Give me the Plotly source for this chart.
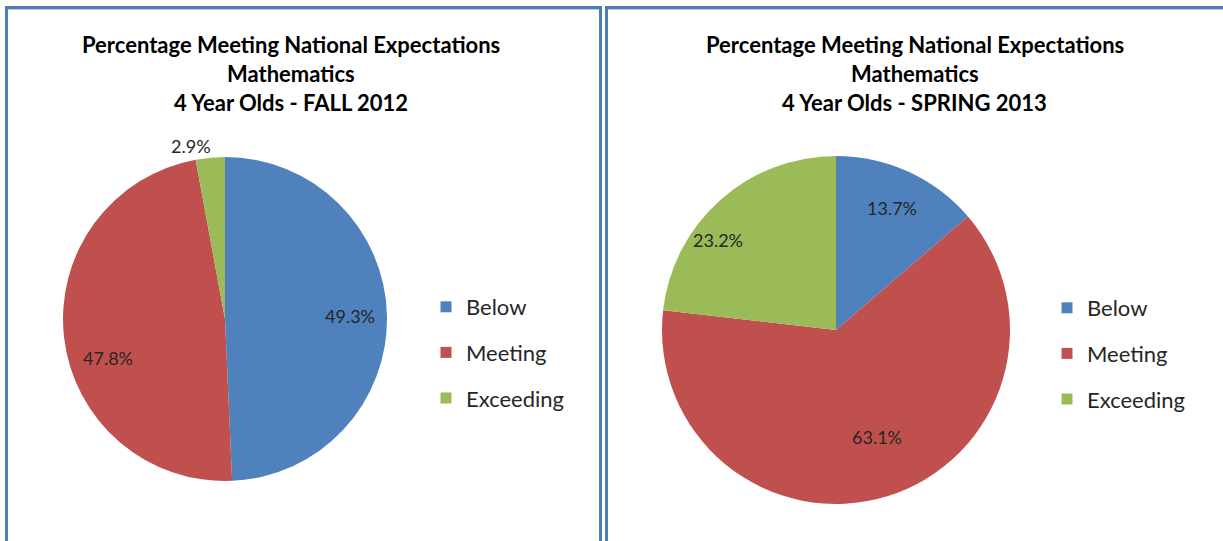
import math
import plotly.graph_objects as go

# ---- data -------------------------------------------------------------
categories = ["Below", "Meeting", "Exceeding"]
fall_2012 = [49.3, 47.8, 2.9]
spring_2013 = [13.7, 63.1, 23.2]

title_lines_fall = ["Percentage Meeting National Expectations", "Mathematics", "4 Year Olds - FALL 2012"]
title_lines_spring = ["Percentage Meeting National Expectations", "Mathematics", "4 Year Olds - SPRING 2013"]

colors = ["#4F81BD", "#C0504D", "#9BBB59"]

# ---- layout geometry (pixels) ----------------------------------------
W, H = 1223, 541
FONT = "Lato, Calibri, Carlito, sans-serif"
TEXT_COLOR = "#262626"

# pie centre/radius in pixels; label radius (fraction of radius) and
# angular nudge (degrees) for each data label
pies = [
    dict(values=fall_2012, cx=225, cy=319, r=162,
         label_r=[0.77, 0.76, 1.09], label_da=[0, -12, -6],
         title=title_lines_fall, title_cx=291, legend="legend"),
    dict(values=spring_2013, cx=836, cy=330, r=174,
         label_r=[0.77, 0.66, 0.85], label_da=[0, -4, -11],
         title=title_lines_spring, title_cx=915, legend="legend2"),
]


def px_x(x):
    return x / W


def px_y(y):
    return 1 - y / H


fig = go.Figure()
annotations = []

for p in pies:
    cx, cy, r = p["cx"], p["cy"], p["r"]
    fig.add_trace(go.Pie(
        labels=categories,
        values=p["values"],
        sort=False,
        direction="clockwise",
        rotation=0,
        marker=dict(colors=colors, line=dict(width=0)),
        textinfo="none",
        hoverinfo="label+percent",
        showlegend=False,
        domain=dict(x=[px_x(cx - r), px_x(cx + r)], y=[px_y(cy + r), px_y(cy - r)]),
    ))

    # data labels placed around the angular middle of each slice
    total = sum(p["values"])
    cum = 0.0
    for v, fr, da in zip(p["values"], p["label_r"], p["label_da"]):
        mid = (cum + v / 2) / total * 2 * math.pi + math.radians(da)
        cum += v
        lx = cx + math.sin(mid) * r * fr
        ly = cy - math.cos(mid) * r * fr
        annotations.append(dict(
            x=px_x(lx), y=px_y(ly), xref="paper", yref="paper",
            text=f"{v:.1f}%", showarrow=False,
            font=dict(family=FONT, size=18, color=TEXT_COLOR),
            xanchor="center", yanchor="middle",
        ))

    # three-line bold title
    for i, line in enumerate(p["title"]):
        annotations.append(dict(
            x=px_x(p["title_cx"]), y=px_y(44 + i * 29.5), xref="paper", yref="paper",
            text=f"<b>{line}</b>", showarrow=False,
            font=dict(family=FONT, size=22, color="#000000"),
            xanchor="center", yanchor="middle",
        ))

    # legend entries (one group per category so the groups can be spaced out)
    for name, col in zip(categories, colors):
        fig.add_trace(go.Scatter(
            x=[None], y=[None], mode="markers",
            marker=dict(symbol="square", size=11, color=col),
            name=name, legendgroup=p["legend"] + name, legend=p["legend"],
            showlegend=True, hoverinfo="skip",
        ))

legend_style = dict(
    font=dict(family=FONT, size=22, color=TEXT_COLOR),
    bgcolor="rgba(0,0,0,0)", tracegroupgap=14,
    xanchor="left", yanchor="top", itemclick=False, itemdoubleclick=False,
)

# panel frames
shapes = []
frame = dict(type="rect", xref="paper", yref="paper",
             line=dict(color="#4A7EBB", width=3), fillcolor="rgba(0,0,0,0)", layer="above")
shapes.append(dict(frame, x0=px_x(6.5), x1=px_x(600.5), y0=px_y(560), y1=px_y(7.5)))
shapes.append(dict(frame, x0=px_x(606.5), x1=px_x(1240), y0=px_y(560), y1=px_y(7.5)))
shade = dict(type="line", xref="paper", yref="paper", line=dict(color="#C8C8C8", width=1))
shapes.append(dict(shade, x0=px_x(8), x1=px_x(599), y0=px_y(9.5), y1=px_y(9.5)))
shapes.append(dict(shade, x0=px_x(608), x1=px_x(1223), y0=px_y(9.5), y1=px_y(9.5)))

fig.update_layout(
    width=W, height=H,
    margin=dict(l=0, r=0, t=0, b=0),
    paper_bgcolor="white", plot_bgcolor="white",
    xaxis=dict(visible=False, domain=[0, 0.01]),
    yaxis=dict(visible=False, domain=[0, 0.01]),
    legend=dict(legend_style, x=px_x(426), y=px_y(286)),
    legend2=dict(legend_style, x=px_x(1047), y=px_y(287)),
    annotations=annotations,
    shapes=shapes,
)

fig.write_html("out.html")
